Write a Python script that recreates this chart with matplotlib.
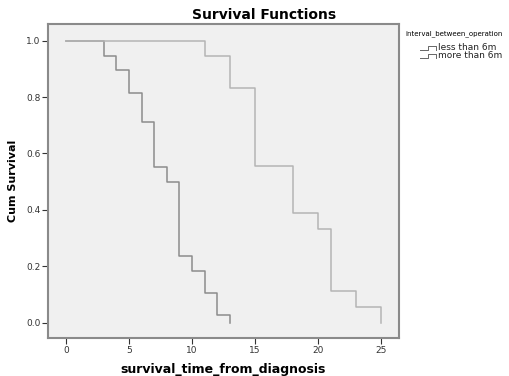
import matplotlib.pyplot as plt
from matplotlib.lines import Line2D

# Kaplan-Meier step values
less_time = [0, 3, 4, 5, 6, 7, 8, 9, 10, 11, 12, 13]
less_surv = [1.0, 0.947, 0.895, 0.816, 0.711, 0.553, 0.500, 0.237, 0.184, 0.105, 0.026, 0.0]
more_time = [0, 11, 13, 15, 18, 20, 21, 23, 25]
more_surv = [1.0, 0.944, 0.833, 0.556, 0.389, 0.333, 0.111, 0.056, 0.0]
group_names = ['less than 6m', 'more than 6m']
group_colors = ['#8c8c8c', '#b4b4b4']
x_ticks = [0, 5, 10, 15, 20, 25]
y_ticks = [0.0, 0.2, 0.4, 0.6, 0.8, 1.0]

fig = plt.figure(figsize=(5.1, 3.76), dpi=100)
ax = fig.add_axes([48 / 510, 38 / 376, 351 / 510, 314 / 376])
ax.set_facecolor('#f0f0f0')

ax.step(less_time, less_surv, where='post', color=group_colors[0], lw=1.1)
ax.step(more_time, more_surv, where='post', color=group_colors[1], lw=1.1)

ax.set_xlim(-1.43, 26.43)
ax.set_ylim(-0.054, 1.059)
ax.set_xticks(x_ticks)
ax.set_yticks(y_ticks)
ax.set_yticklabels(['%.1f' % v for v in y_ticks])
ax.tick_params(labelsize=6.5, colors='#333333', length=4, width=0.8, direction='out', pad=1.5)
for s in ax.spines.values():
    s.set_color('#8a8a8a')
    s.set_linewidth(1.5)

ax.set_xlabel('survival_time_from_diagnosis', fontsize=9, fontweight='bold', labelpad=6)
ax.set_ylabel('Cum Survival', fontsize=8, fontweight='bold', labelpad=6)
fig.text(264 / 510, 1 - 15 / 376, 'Survival Functions', fontsize=10, fontweight='bold',
         ha='center', va='center')

# legend drawn by hand, SPSS-like
fig.text(405 / 510, 1 - 34 / 376, 'interval_between_operation', fontsize=5.0,
         va='center')
for i, name in enumerate(group_names):
    yc = 48 + i * 8
    ylo, yhi = 1 - (yc + 2) / 376, 1 - (yc - 2) / 376
    xs = [x / 510 for x in [420, 428, 428, 436, 436]]
    ys = [ylo, ylo, yhi, yhi, ylo]
    fig.add_artist(Line2D(xs, ys, color='#666666', lw=0.7, transform=fig.transFigure))
    fig.text(438 / 510, 1 - yc / 376, name, fontsize=6.5, va='center', color='#222222')

fig.savefig('out.png', dpi=100)
